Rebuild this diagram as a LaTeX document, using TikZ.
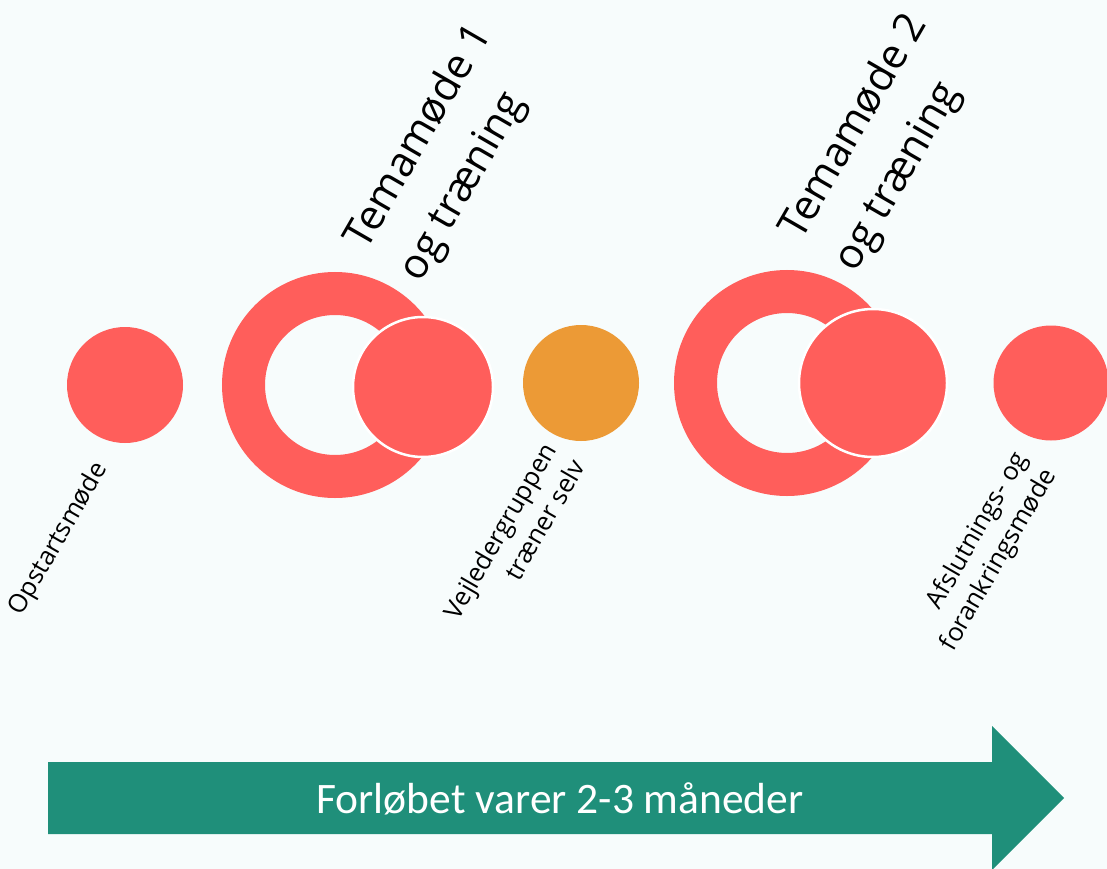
\documentclass[tikz,border=0pt]{standalone}
\usepackage{fontspec}
\setmainfont{Open Sans}
\newfontfamily\arrowfont{Carlito}
\definecolor{bgcol}{HTML}{F7FCFC}
\definecolor{coral}{HTML}{FF5E5B}
\definecolor{amber}{HTML}{EC9A36}
\definecolor{arrowgreen}{HTML}{1F8F7A}
\begin{document}
\begin{tikzpicture}[x=1pt,y=-1pt,
  dot/.style={circle, fill=coral, inner sep=0pt, minimum size=#1},
  ringnode/.style={circle, draw=coral, line width=43pt, inner sep=0pt, minimum size=183pt},
  cutdot/.style={dot=#1, draw=white, line width=2.5pt},
  biglabel/.style={rotate=60, anchor=center, inner sep=0pt, align=left, font=\fontsize{41.5}{63}\selectfont},
  smalllabel/.style={rotate=60, anchor=center, inner sep=0pt, align=right, font=\fontsize{25.5}{33}\selectfont},
  arrowtext/.style={text=white, font=\arrowfont\fontsize{43.5}{50}\selectfont, inner sep=0pt}]
\fill[bgcol] (0,0) rectangle (1107,869);
\useasboundingbox (0,0) rectangle (1107,869);
% circles
\node[dot=116pt] (c1) at (125,385) {};
\node[ringnode] (r1) at (335,385) {};
\node[cutdot=140pt] (c2) at (423,387) {};
\node[dot=116pt, fill=amber] (c3) at (581,383) {};
\node[ringnode] (r2) at (787,383) {};
\node[cutdot=148pt] (c4) at (873,383) {};
\node[dot=115pt] (c5) at (1051,383) {};
% labels
\node[smalllabel] (l1) at (59,539) {Opstartsmøde};
\node[biglabel] (l2) at (447,153) {Temamøde 1\\og træning};
\node[smalllabel] (l3) at (514,539) {Vejledergruppen\\træner selv};
\node[biglabel] (l4) at (882,143) {Temamøde 2\\og træning};
\node[smalllabel] (l5) at (985,552) {Afslutnings- og\\forankringsmøde};
% arrow
\coordinate (a0) at (48,798);
\coordinate (atip) at (1064,798);
\fill[arrowgreen] (a0) ++(0,-36) -- (992,762) -- (992,726) -- (atip) -- (992,870) -- (992,834) -- (48,834) -- cycle;
\node[arrowtext] (at) at (560,799) {Forløbet varer 2-3 måneder};
\end{tikzpicture}
\end{document}
